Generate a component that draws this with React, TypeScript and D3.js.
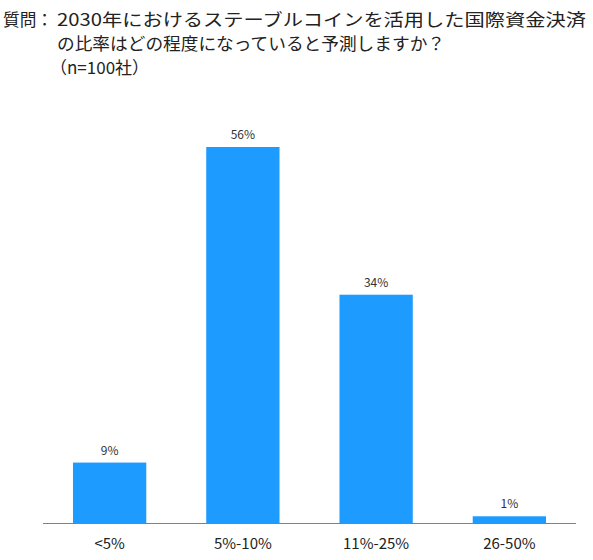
import React from "react";
import * as d3 from "d3";

const categories = ["<5%", "5%-10%", "11%-25%", "26-50%"];
const values = [9, 56, 34, 1];
const titleLines = [
  "2030年におけるステーブルコインを活用した国際資金決済",
  "の比率はどの程度になっていると予測しますか？",
  "（n=100社）",
];
const titleWidths = [529, 388, 0];

const W = 593;
const H = 560;
const font = "'Noto Sans CJK JP', 'Noto Sans', sans-serif";

export default function App() {
  const x = d3.scaleBand<string>().domain(categories).range([43, 576]).paddingInner(0.45).paddingOuter(0.225);
  const y = d3.scaleLinear().domain([0, 56]).range([523, 147]);

  return (
    <svg width={W} height={H} style={{ position: "absolute", left: 0, top: 0, background: "#fff" }}>
      <g fontFamily={font} fill="#222">
        <text x={3} y={26} fontSize={17} textLength={50} lengthAdjust="spacingAndGlyphs">質問：</text>
        {titleLines.map((t, i) => (
          <text
            key={i}
            x={i === 2 ? 50 : 57}
            y={26 + i * 24}
            fontSize={17}
            textLength={titleWidths[i] || undefined}
            lengthAdjust="spacingAndGlyphs"
          >
            {t}
          </text>
        ))}
      </g>
      {categories.map((c, i) => (
        <g key={c}>
          <rect x={x(c)} y={y(values[i])} width={x.bandwidth()} height={y(0) - y(values[i])} fill="#1E9BFF" />
          <text
            x={x(c)! + x.bandwidth() / 2}
            y={y(values[i]) - 8}
            textAnchor="middle"
            fontSize={12}
            fontFamily={font}
            fill="#333"
          >
            {values[i]}%
          </text>
          <text
            x={x(c)! + x.bandwidth() / 2}
            y={549}
            textAnchor="middle"
            fontSize={15}
            fontFamily={font}
            fill="#222"
          >
            {c}
          </text>
        </g>
      ))}
      <line x1={43} x2={576} y1={523.5} y2={523.5} stroke="#7f7f86" strokeWidth={1} />
    </svg>
  );
}
